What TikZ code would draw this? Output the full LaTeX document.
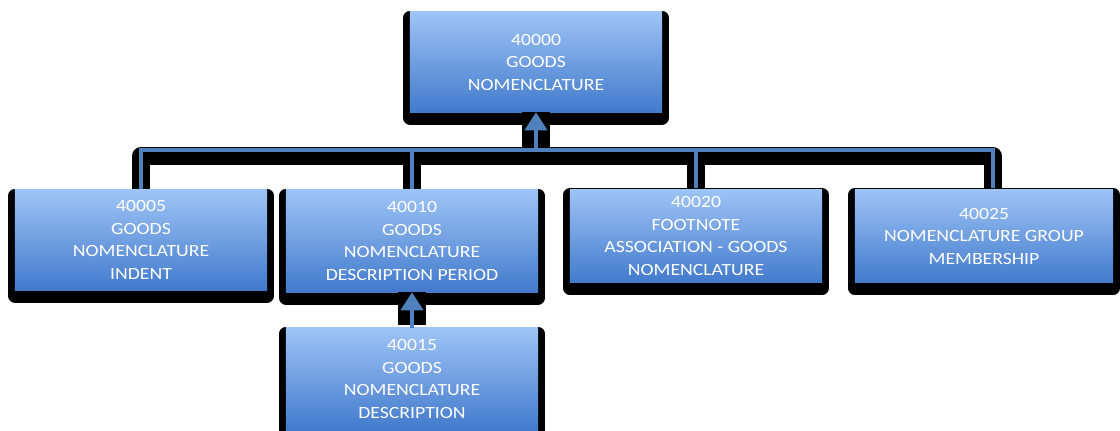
\documentclass[tikz,border=0pt]{standalone}
\usepackage{fontspec}
\newfontfamily\boxfont{Carlito}[FakeStretch=1.15]
\usetikzlibrary{arrows.meta,backgrounds}
\definecolor{box top}{RGB}{158,196,246}
\definecolor{box bottom}{RGB}{66,122,204}
\definecolor{link blue}{RGB}{79,129,189}
\tikzset{
    entity/.style={rectangle,inner sep=0pt,minimum width=6.3cm,minimum height=2.5cm,
        top color=box top,bottom color=box bottom,text=white,align=center,
        font={\boxfont\fontsize{12.2pt}{16pt}\selectfont},
        preaction={fill=black,draw=black,line width=0.35cm,line join=round,transform canvas={yshift=-0.14cm}}},
    short entity/.style={entity,minimum height=2.33cm},
    feeder/.style={draw=link blue,line width=0.1cm,
        preaction={draw=black,line width=0.45cm,line join=round,transform canvas={yshift=-0.15cm}}},
    uplink/.style={draw=link blue,line width=0.1cm,-{Triangle[width=0.55cm,length=0.45cm]},
        preaction={-,draw=black,line width=0.72cm,shorten <=0.08cm}},
}

\begin{document}
\begin{tikzpicture}[x=0.025cm,y=-0.025cm]
    \useasboundingbox (0,0) rectangle (1120,430);
    \node[entity] (top) at (536,62) {40000\\GOODS\\NOMENCLATURE};
    \node[entity] (n05) at (141,240) {40005\\GOODS\\NOMENCLATURE\\INDENT};
    \node[entity,minimum height=2.55cm] (n10) at (412,241) {40010\\GOODS\\NOMENCLATURE\\DESCRIPTION PERIOD};
    \node[entity,minimum height=2.55cm] (n15) at (412,379) {40015\\GOODS\\NOMENCLATURE\\DESCRIPTION};
    \node[short entity] (n20) at (696,236) {40020\\FOOTNOTE\\ASSOCIATION - GOODS\\NOMENCLATURE};
    \node[short entity,minimum width=6.45cm] (n25) at (984,236) {40025\\NOMENCLATURE GROUP\\MEMBERSHIP};
    \coordinate (hub) at (536,150);
    \begin{scope}[on background layer]
        \draw[feeder] (n05.north) |- (hub) -| ([xshift=0.22cm]n25.north);
        \draw[feeder] (n10.north) -- (n10.north |- hub);
        \draw[feeder] (n20.north) -- (n20.north |- hub);
    \end{scope}
    \draw[uplink] (hub) -- (hub |- top.south);
    \draw[uplink] (n15.north) -- (n15.north |- n10.south);
\end{tikzpicture}
\end{document}
